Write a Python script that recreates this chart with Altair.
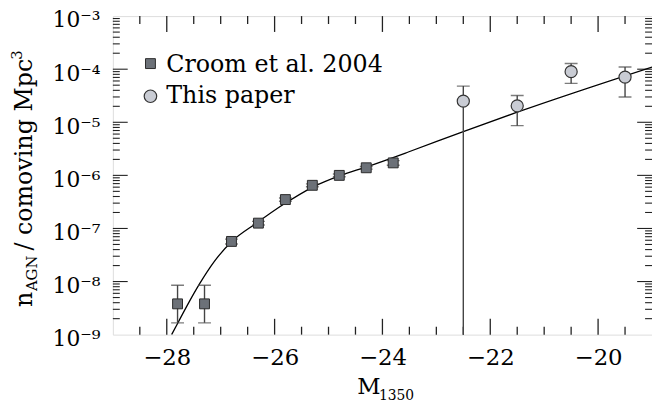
import altair as alt
import pandas as pd

# ---- data ----
croom_mag = [-27.8, -27.3, -26.8, -26.3, -25.8, -25.3, -24.8, -24.3, -23.8]
croom_n = [3.8e-9, 3.8e-9, 5.7e-8, 1.26e-7, 3.5e-7, 6.5e-7, 1.0e-6, 1.39e-6, 1.72e-6]
croom_lo = [1.67e-9, 1.67e-9, 5.1e-8, 1.16e-7, 3.25e-7, 6.1e-7, 0.94e-6, 1.31e-6, 1.55e-6]
croom_hi = [8.5e-9, 8.5e-9, 6.3e-8, 1.36e-7, 3.75e-7, 6.9e-7, 1.06e-6, 1.47e-6, 1.9e-6]

this_mag = [-22.5, -21.5, -20.5, -19.5]
this_n = [2.5e-5, 2.04e-5, 9.0e-5, 7.1e-5]
this_lo = [1e-10, 8.65e-6, 5.4e-5, 3.0e-5]
this_hi = [4.8e-5, 3.2e-5, 1.28e-4, 1.1e-4]

curve_mag = [-27.91, -27.79, -27.605, -27.39, -27.117, -26.80, -26.33, -25.84,
             -25.29, -24.80, -24.28, -23.52, -22.50, -21.50, -19.0]
curve_logn = [-9.0, -8.77, -8.42, -8.04, -7.62, -7.25, -6.895, -6.55,
              -6.22, -6.01, -5.835, -5.56, -5.175, -4.81, -3.96]

x_major = [-28, -26, -24, -22, -20]
x_minor = [-28.5, -27.5, -27, -26.5, -25.5, -25, -24.5, -23.5, -23, -22.5,
           -21.5, -21, -20.5, -19.5]
y_major = [1e-8, 1e-7, 1e-6, 1e-5, 1e-4]
y_labels = [1e-9, 1e-8, 1e-7, 1e-6, 1e-5, 1e-4, 1e-3]
y_minor = [k * 10.0 ** d for d in range(-9, -3) for k in range(2, 10)]

legend_labels = ["Croom et al. 2004", "This paper"]

# ---- layout / style ----
W, H = 545, 322
FONT = "DejaVu Serif"
FS = 23
SQ_FILL, SQ_STROKE = "#6c7178", "#2b2b2b"
CI_FILL, CI_STROKE = "#c9ccd4", "#333333"
ERR = "#444444"
TICK = "#222222"

x_scale = alt.Scale(domain=[-29, -19], nice=False, zero=False)
y_scale = alt.Scale(type="log", domain=[1e-9, 1e-3], nice=False)

x_axis = alt.Axis(values=x_major, ticks=False, domain=False, grid=False,
                  labelFont=FONT, labelFontSize=FS, labelColor="black",
                  labelPadding=12, title=None, labelOverlap=False)
y_axis = alt.Axis(values=y_labels, ticks=False, domain=False, grid=False,
                  labelFont=FONT, labelFontSize=22, labelColor="black",
                  labelPadding=13, title=None, labelOffset=4, labelOverlap=False,
                  labelBound=False,
                  labelExpr="'10\u207b' + ['\u2070','\u00b9','\u00b2','\u00b3','\u2074','\u2075','\u2076','\u2077','\u2078','\u2079'][round(-log(datum.value)/LN10)]")


def X(field="mag"):
    return alt.X(f"{field}:Q", scale=x_scale, axis=x_axis)


def Y(field="n"):
    return alt.Y(f"{field}:Q", scale=y_scale, axis=y_axis)


croom_df = pd.DataFrame({"mag": croom_mag, "n": croom_n, "lo": croom_lo, "hi": croom_hi})
this_df = pd.DataFrame({"mag": this_mag, "n": this_n, "lo": this_lo, "hi": this_hi})
curve_df = pd.DataFrame({"mag": curve_mag, "n": [10.0 ** v for v in curve_logn]})

layers = []

# tick marks (inside the frame, on all four sides)
for vals, ln in [(x_major, 16), (x_minor, 8)]:
    d = pd.DataFrame({"mag": vals})
    layers.append(alt.Chart(d).mark_rule(color=TICK, strokeWidth=1.3).encode(
        x=X(), y=alt.value(H), y2=alt.value(H - ln)))
    layers.append(alt.Chart(d).mark_rule(color=TICK, strokeWidth=1.3).encode(
        x=X(), y=alt.value(0), y2=alt.value(ln)))
for vals, ln in [(y_major, 15), (y_minor, 7)]:
    d = pd.DataFrame({"n": vals})
    layers.append(alt.Chart(d).mark_rule(color=TICK, strokeWidth=1.1).encode(
        y=Y(), x=alt.value(0), x2=alt.value(ln)))
    layers.append(alt.Chart(d).mark_rule(color=TICK, strokeWidth=1.1).encode(
        y=Y(), x=alt.value(W), x2=alt.value(W - ln)))

# model curve
layers.append(alt.Chart(curve_df).mark_line(color="black", strokeWidth=1.3,
                                            interpolate="monotone", clip=True).encode(
    x=X(), y=Y()))

# error bars
for df in (croom_df, this_df):
    layers.append(alt.Chart(df).mark_rule(color=ERR, strokeWidth=1.4, clip=True).encode(
        x=X(), y=Y("lo"), y2="hi:Q"))
    for f in ("lo", "hi"):
        layers.append(alt.Chart(df).mark_tick(color=ERR, thickness=1.4, size=13,
                                              orient="horizontal", clip=True).encode(
            x=X(), y=Y(f)))

# points
layers.append(alt.Chart(croom_df).mark_point(shape="square", size=100, filled=True,
                                             fill=SQ_FILL, stroke=SQ_STROKE,
                                             strokeWidth=1, opacity=1).encode(x=X(), y=Y()))
layers.append(alt.Chart(this_df).mark_point(shape="circle", size=150, filled=True,
                                            fill=CI_FILL, stroke=CI_STROKE,
                                            strokeWidth=1.2, opacity=1).encode(x=X(), y=Y()))

# legend
one = pd.DataFrame({"a": [0]})
layers.append(alt.Chart(one).mark_point(shape="square", size=100, filled=True, fill=SQ_FILL,
                                        stroke=SQ_STROKE, strokeWidth=1, opacity=1).encode(
    x=alt.value(38), y=alt.value(48)))
layers.append(alt.Chart(one).mark_point(shape="circle", size=160, filled=True, fill=CI_FILL,
                                        stroke=CI_STROKE, strokeWidth=1.2, opacity=1).encode(
    x=alt.value(38), y=alt.value(81)))
for lab, yy in zip(legend_labels, [57, 88]):
    layers.append(alt.Chart(one).mark_text(text=lab, font=FONT, fontSize=24, color="black",
                                           align="left", baseline="alphabetic").encode(
        x=alt.value(54), y=alt.value(yy)))

# x title: M_1350
layers.append(alt.Chart(one).mark_text(text="M", font=FONT, fontSize=FS, color="black",
                                       align="left", baseline="alphabetic").encode(
    x=alt.value(247), y=alt.value(382)))
layers.append(alt.Chart(one).mark_text(text="1350", font=FONT, fontSize=14, color="black",
                                       align="left", baseline="alphabetic", dx=22, dy=6).encode(
    x=alt.value(247), y=alt.value(382)))

# y title: n_AGN / comoving Mpc^3 (rotated)
YX, YY = -82, 294
for txt, size, dx, dy in [("n", 24, 0, 0), ("AGN", 15, 16, 5),
                          ("/ comoving Mpc", 24, 57, 0), ("3", 15, 250, -10)]:
    layers.append(alt.Chart(one).mark_text(text=txt, font=FONT, fontSize=size, color="black",
                                           align="left", baseline="alphabetic", angle=270,
                                           dx=dx, dy=dy).encode(
        x=alt.value(YX), y=alt.value(YY)))

chart = alt.layer(*layers).properties(
    width=W, height=H,
    autosize=alt.AutoSizeParams(type="none"),
    padding={"left": 106, "top": 6, "right": 0, "bottom": 76},
).configure_view(stroke="black", strokeWidth=1.5).configure(background="white")

chart.save("out.html", embed_options={"renderer": "svg", "actions": False})
